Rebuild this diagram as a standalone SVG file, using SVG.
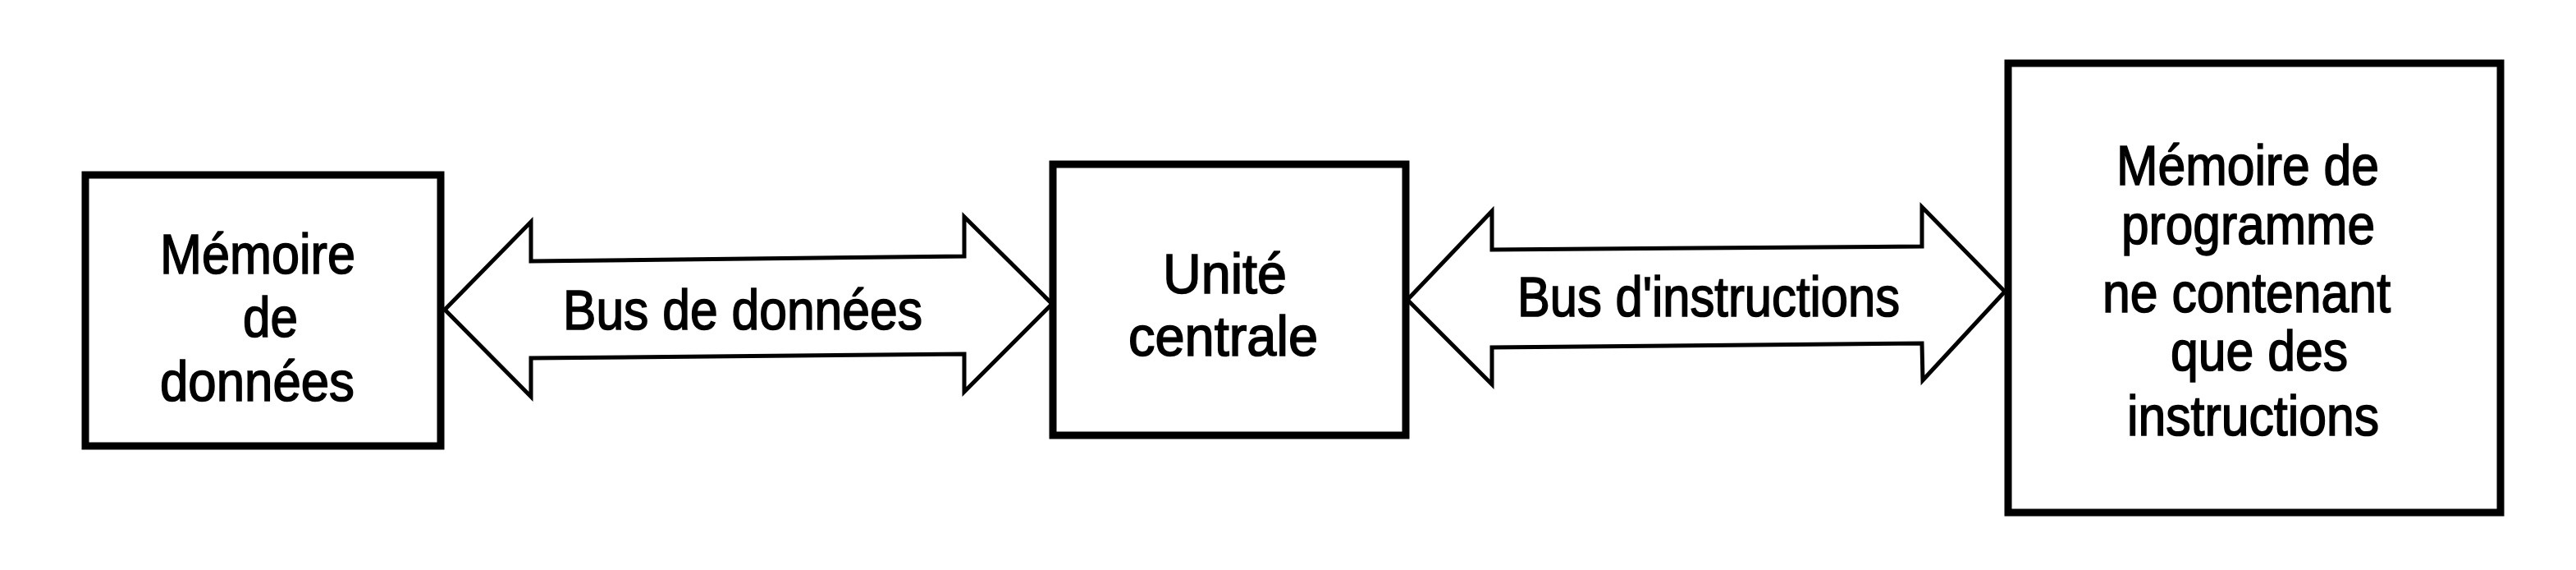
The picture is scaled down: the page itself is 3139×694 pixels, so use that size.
<svg xmlns="http://www.w3.org/2000/svg" width="3139" height="694" viewBox="0 0 3139 694">
<style>
.box{fill:#fff;stroke:#000;stroke-width:9}
.bus{fill:#fff;stroke:#000;stroke-width:5;stroke-linejoin:miter}
text{font-family:"Liberation Sans",Arial,Helvetica,sans-serif;font-size:68px;fill:#000;stroke:#000;stroke-width:1.6}
</style>
<rect width="3139" height="694" fill="#fff"/>
<g id="connectors">
<g id="bus-donnees">
<polygon class="bus" points="542,377 647,270 647,318 1175,312 1175,264 1282,370 1175,477 1175,431 647,436 647,483"/>
<text x="686" y="401" textLength="438" lengthAdjust="spacingAndGlyphs">Bus de données</text>
</g>
<g id="bus-instructions">
<polygon class="bus" points="1715,365 1818,257 1818,304 2342,300 2342,252 2443,355 2343,463 2342,418 1818,423 1818,468"/>
<text x="1849" y="385" textLength="466" lengthAdjust="spacingAndGlyphs">Bus d'instructions</text>
</g>
</g>
<g id="memoire-donnees">
<rect class="box" x="104" y="213" width="433" height="330"/>
<text x="195" y="333" textLength="238" lengthAdjust="spacingAndGlyphs">Mémoire</text>
<text x="296" y="410" textLength="67" lengthAdjust="spacingAndGlyphs">de</text>
<text x="195" y="488" textLength="237" lengthAdjust="spacingAndGlyphs">données</text>
</g>
<g id="unite-centrale">
<rect class="box" x="1283" y="200" width="430" height="330"/>
<text x="1417" y="357" textLength="151" lengthAdjust="spacingAndGlyphs">Unité</text>
<text x="1375" y="433" textLength="231" lengthAdjust="spacingAndGlyphs">centrale</text>
</g>
<g id="memoire-programme">
<rect class="box" x="2447" y="77" width="600" height="547"/>
<text x="2579" y="225" textLength="320" lengthAdjust="spacingAndGlyphs">Mémoire de</text>
<text x="2585" y="297" textLength="309" lengthAdjust="spacingAndGlyphs">programme</text>
<text x="2562" y="380" textLength="351" lengthAdjust="spacingAndGlyphs">ne contenant</text>
<text x="2645" y="451" textLength="216" lengthAdjust="spacingAndGlyphs">que des</text>
<text x="2592" y="530" textLength="307" lengthAdjust="spacingAndGlyphs">instructions</text>
</g>
</svg>
